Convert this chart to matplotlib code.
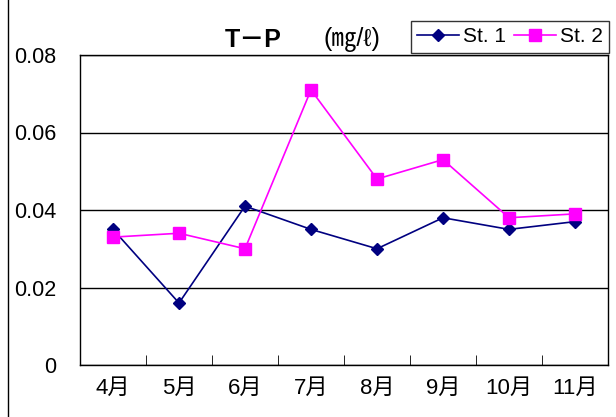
import matplotlib
matplotlib.use("Agg")
import matplotlib.pyplot as plt
from matplotlib.lines import Line2D
import numpy as np

# データ
months = ["4月", "5月", "6月", "7月", "8月", "9月", "10月", "11月"]
st1 = [0.035, 0.016, 0.041, 0.035, 0.030, 0.038, 0.035, 0.037]
st2 = [0.033, 0.034, 0.030, 0.071, 0.048, 0.053, 0.038, 0.039]

plt.rcParams['font.family'] = ['Liberation Sans', 'Noto Sans CJK JP', 'DejaVu Sans']

W, H = 616, 417
fig = plt.figure(figsize=(W / 100, H / 100), dpi=100)
ax = fig.add_axes([80 / W, 1 - 365 / H, (608 - 80) / W, (365 - 55) / H])

x = np.arange(len(months))
ax.plot(x, st1, color='#000080', marker='D', markersize=6.5, linewidth=1.2, label='St. 1')
ax.plot(x, st2, color='#FF00FF', marker='s', markersize=8, linewidth=1.2, label='St. 2')

ax.set_xlim(-0.5, len(months) - 0.5)
ax.set_ylim(0, 0.08)
ax.set_yticks([0, 0.02, 0.04, 0.06, 0.08])
ax.set_yticklabels(['0', '0.02', '0.04', '0.06', '0.08'], fontsize=15.5)
ax.set_xticks(x)
ax.set_xticklabels(months, fontsize=16)
ax.set_xticks(x[:-1] + 0.5, minor=True)
ax.tick_params(axis='x', which='major', length=0, pad=9)
ax.tick_params(axis='x', which='minor', direction='in', length=7, color='black')
ax.tick_params(axis='y', length=0, pad=17)
ax.grid(axis='y', color='black', linewidth=1)
for s in ax.spines.values():
    s.set_color('black')
    s.set_linewidth(1)

# 外枠（左）
fig.add_artist(Line2D([8 / W, 8 / W], [0, 1], color='black', linewidth=1, transform=fig.transFigure))

# タイトル
fig.text(253 / W, 1 - 40 / H, "T－P", fontsize=18, fontweight='bold', ha='center', va='center')
fig.text(352 / W, 1 - 40 / H, "(㎎/ℓ)", fontsize=18, ha='center', va='center')

leg = fig.legend(loc='center', bbox_to_anchor=(510 / W, 1 - 37 / H), ncol=2, fontsize=15,
                 frameon=True, fancybox=False, edgecolor='black', handlelength=2,
                 columnspacing=0.4, handletextpad=0.2, borderpad=0.3)
leg.get_frame().set_linewidth(1)

fig.savefig("out.png", dpi=100)
